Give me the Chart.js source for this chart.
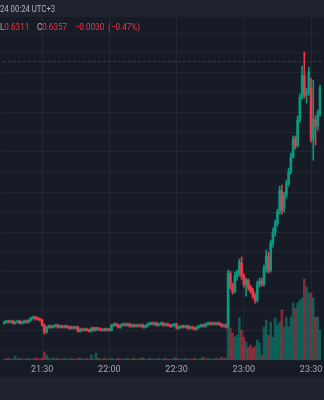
<!DOCTYPE html>
<html>
<head>
<meta charset="utf-8">
<script src="https://cdn.jsdelivr.net/npm/chart.js@4.4.1/dist/chart.umd.min.js"></script>
<style>
  html, body { margin: 0; padding: 0; background: #171b26; }
  #wrap { position: relative; width: 324px; height: 400px; overflow: hidden; background: #171b26; }
  #topbar { position: absolute; left: 0; top: 0; width: 324px; height: 17px; background: #1e222d; }
  #bottombar { position: absolute; left: 0; top: 377px; width: 324px; height: 23px; background: #1e222d; }
  canvas { position: absolute; left: 0; top: 0; }
  .txt { position: absolute; left: 0; font-family: Roboto, sans-serif; font-size: 9px; line-height: 10px;
         white-space: nowrap; color: #b2b5be; transform: scaleX(0.86); transform-origin: 0 0; }
  .ohlc { transform: scaleX(0.9); word-spacing: 2px; }
  .red { color: #f23645; }
</style>
</head>
<body>
<div id="wrap">
  <div id="topbar"></div>
  <div id="bottombar"></div>
  <canvas id="chart" width="324" height="400"></canvas>
  <div class="txt" style="top:4px">24 00:24 UTC+3</div>
  <div class="txt ohlc" style="top:22px">L<span class="red">0.6311</span>&nbsp; C<span class="red">0.6357</span>&nbsp; <span class="red">&minus;0.0030 (&minus;0.47%)</span></div>
</div>
<script>
// one-minute candles, 21:13 .. 23:34
const firstMinute = 21 * 60 + 13;
const candleCount = 142;
const majorTimes = ['21:30', '22:00', '22:30', '23:00', '23:30'];

const open = [
  0.63054, 0.63056, 0.63058, 0.63056, 0.63058, 0.63054, 0.63056, 0.63058, 0.63054, 0.63056,
  0.63058, 0.63056, 0.63060, 0.63064, 0.63066, 0.63064, 0.63062, 0.63060, 0.63050, 0.63036,
  0.63046, 0.63048, 0.63046, 0.63048, 0.63050, 0.63046, 0.63048, 0.63046, 0.63048, 0.63046,
  0.63044, 0.63046, 0.63044, 0.63046, 0.63038, 0.63042, 0.63040, 0.63042, 0.63040, 0.63038,
  0.63044, 0.63040, 0.63044, 0.63042, 0.63040, 0.63042, 0.63040, 0.63042, 0.63040, 0.63050,
  0.63052, 0.63050, 0.63046, 0.63050, 0.63052, 0.63050, 0.63052, 0.63048, 0.63050, 0.63048,
  0.63050, 0.63048, 0.63050, 0.63046, 0.63048, 0.63052, 0.63054, 0.63052, 0.63054, 0.63050,
  0.63052, 0.63054, 0.63050, 0.63052, 0.63050, 0.63048, 0.63050, 0.63052, 0.63044, 0.63046,
  0.63048, 0.63046, 0.63048, 0.63044, 0.63046, 0.63044, 0.63042, 0.63046, 0.63048, 0.63050,
  0.63048, 0.63052, 0.63054, 0.63052, 0.63054, 0.63052, 0.63054, 0.63052, 0.63048, 0.63050,
  0.63046, 0.63154, 0.63128, 0.63118, 0.63146, 0.63154, 0.63174, 0.63148, 0.63132, 0.63140,
  0.63126, 0.63120, 0.63108, 0.63100, 0.63132, 0.63138, 0.63132, 0.63164, 0.63188, 0.63160,
  0.63214, 0.63236, 0.63254, 0.63276, 0.63316, 0.63284, 0.63310, 0.63332, 0.63356, 0.63386,
  0.63422, 0.63410, 0.63460, 0.63506, 0.63548, 0.63510, 0.63518, 0.63524, 0.63422, 0.63460,
  0.63448, 0.63474
];
const close = [
  0.63056, 0.63058, 0.63056, 0.63058, 0.63054, 0.63056, 0.63058, 0.63054, 0.63056, 0.63058,
  0.63056, 0.63060, 0.63064, 0.63066, 0.63064, 0.63062, 0.63060, 0.63050, 0.63036, 0.63046,
  0.63048, 0.63046, 0.63048, 0.63050, 0.63046, 0.63048, 0.63046, 0.63048, 0.63046, 0.63044,
  0.63046, 0.63044, 0.63046, 0.63038, 0.63042, 0.63040, 0.63042, 0.63040, 0.63038, 0.63044,
  0.63040, 0.63044, 0.63042, 0.63040, 0.63042, 0.63040, 0.63042, 0.63040, 0.63050, 0.63052,
  0.63050, 0.63046, 0.63050, 0.63052, 0.63050, 0.63052, 0.63048, 0.63050, 0.63048, 0.63050,
  0.63048, 0.63050, 0.63046, 0.63048, 0.63052, 0.63054, 0.63052, 0.63054, 0.63050, 0.63052,
  0.63054, 0.63050, 0.63052, 0.63050, 0.63048, 0.63050, 0.63052, 0.63044, 0.63046, 0.63048,
  0.63046, 0.63048, 0.63044, 0.63046, 0.63044, 0.63042, 0.63046, 0.63048, 0.63050, 0.63048,
  0.63052, 0.63054, 0.63052, 0.63054, 0.63052, 0.63054, 0.63052, 0.63048, 0.63050, 0.63046,
  0.63154, 0.63126, 0.63116, 0.63148, 0.63156, 0.63176, 0.63148, 0.63132, 0.63140, 0.63126,
  0.63118, 0.63108, 0.63100, 0.63132, 0.63138, 0.63132, 0.63164, 0.63188, 0.63158, 0.63214,
  0.63236, 0.63254, 0.63276, 0.63320, 0.63280, 0.63310, 0.63334, 0.63356, 0.63386, 0.63422,
  0.63408, 0.63460, 0.63506, 0.63550, 0.63510, 0.63518, 0.63556, 0.63422, 0.63462, 0.63448,
  0.63474, 0.63524
];
const high = [
  0.63058, 0.63060, 0.63060, 0.63060, 0.63060, 0.63058, 0.63060, 0.63060, 0.63058, 0.63060,
  0.63060, 0.63062, 0.63066, 0.63068, 0.63068, 0.63066, 0.63064, 0.63062, 0.63052, 0.63048,
  0.63050, 0.63050, 0.63050, 0.63052, 0.63052, 0.63050, 0.63050, 0.63050, 0.63050, 0.63048,
  0.63048, 0.63048, 0.63048, 0.63048, 0.63044, 0.63044, 0.63044, 0.63044, 0.63042, 0.63046,
  0.63046, 0.63046, 0.63046, 0.63044, 0.63044, 0.63044, 0.63044, 0.63044, 0.63052, 0.63054,
  0.63054, 0.63052, 0.63052, 0.63054, 0.63054, 0.63054, 0.63054, 0.63052, 0.63052, 0.63052,
  0.63052, 0.63052, 0.63052, 0.63050, 0.63054, 0.63056, 0.63056, 0.63056, 0.63056, 0.63054,
  0.63056, 0.63056, 0.63054, 0.63054, 0.63052, 0.63052, 0.63054, 0.63054, 0.63048, 0.63050,
  0.63050, 0.63050, 0.63050, 0.63048, 0.63048, 0.63046, 0.63048, 0.63050, 0.63052, 0.63052,
  0.63054, 0.63056, 0.63056, 0.63056, 0.63056, 0.63056, 0.63056, 0.63054, 0.63052, 0.63052,
  0.63160, 0.63158, 0.63134, 0.63156, 0.63160, 0.63182, 0.63186, 0.63152, 0.63144, 0.63142,
  0.63130, 0.63124, 0.63114, 0.63138, 0.63144, 0.63144, 0.63170, 0.63200, 0.63196, 0.63220,
  0.63244, 0.63260, 0.63282, 0.63328, 0.63330, 0.63316, 0.63340, 0.63364, 0.63394, 0.63428,
  0.63428, 0.63468, 0.63512, 0.63568, 0.63596, 0.63524, 0.63566, 0.63544, 0.63540, 0.63468,
  0.63480, 0.63530
];
const low = [
  0.63052, 0.63054, 0.63054, 0.63054, 0.63052, 0.63052, 0.63054, 0.63052, 0.63052, 0.63054,
  0.63054, 0.63054, 0.63058, 0.63062, 0.63060, 0.63060, 0.63058, 0.63048, 0.63032, 0.63034,
  0.63044, 0.63044, 0.63044, 0.63046, 0.63044, 0.63044, 0.63044, 0.63044, 0.63044, 0.63042,
  0.63042, 0.63042, 0.63042, 0.63036, 0.63036, 0.63038, 0.63038, 0.63038, 0.63036, 0.63036,
  0.63038, 0.63038, 0.63040, 0.63038, 0.63038, 0.63038, 0.63038, 0.63038, 0.63038, 0.63048,
  0.63048, 0.63044, 0.63044, 0.63048, 0.63048, 0.63048, 0.63046, 0.63046, 0.63046, 0.63046,
  0.63046, 0.63046, 0.63044, 0.63044, 0.63046, 0.63050, 0.63050, 0.63050, 0.63048, 0.63048,
  0.63050, 0.63048, 0.63048, 0.63048, 0.63046, 0.63046, 0.63048, 0.63042, 0.63042, 0.63044,
  0.63044, 0.63044, 0.63042, 0.63042, 0.63042, 0.63040, 0.63040, 0.63044, 0.63046, 0.63046,
  0.63046, 0.63050, 0.63050, 0.63050, 0.63050, 0.63050, 0.63050, 0.63046, 0.63046, 0.63044,
  0.63044, 0.63122, 0.63112, 0.63114, 0.63140, 0.63148, 0.63142, 0.63126, 0.63108, 0.63120,
  0.63114, 0.63104, 0.63094, 0.63096, 0.63126, 0.63128, 0.63128, 0.63156, 0.63154, 0.63156,
  0.63206, 0.63228, 0.63248, 0.63272, 0.63272, 0.63276, 0.63304, 0.63328, 0.63352, 0.63384,
  0.63402, 0.63406, 0.63456, 0.63502, 0.63504, 0.63494, 0.63510, 0.63416, 0.63380, 0.63410,
  0.63440, 0.63468
];
const volume = [
  100, 100, 200, 100, 100, 400, 100, 200, 100, 100,
  100, 200, 100, 100, 200, 200, 100, 200, 800, 500,
  200, 100, 200, 100, 200, 100, 100, 200, 100, 100,
  200, 100, 100, 200, 200, 100, 100, 200, 100, 500,
  100, 700, 200, 100, 100, 200, 100, 100, 200, 100,
  100, 200, 100, 100, 100, 200, 100, 100, 200, 100,
  100, 200, 200, 100, 100, 200, 100, 100, 100, 200,
  100, 100, 200, 100, 100, 100, 200, 200, 100, 100,
  100, 200, 100, 100, 100, 200, 100, 100, 200, 300,
  100, 200, 100, 100, 100, 200, 100, 300, 200, 200,
  5000, 3200, 2700, 2300, 2500, 4200, 3000, 2300, 1800, 1300,
  1500, 1200, 1400, 2000, 1700, 500, 3300, 4000, 2500, 3800,
  2300, 4200, 3500, 3800, 5000, 3300, 4300, 3300, 4300, 5700,
  5200, 5700, 6000, 6200, 8100, 7300, 6700, 6700, 6200, 4300,
  4300, 3000
];

// horizontal grid levels and the dashed price line
const priceTicks = [0.63634, 0.63596, 0.63556, 0.63516, 0.63476, 0.63436, 0.63398, 0.63358, 0.63316,
  0.63276, 0.63236, 0.63198, 0.63158, 0.63118, 0.63080, 0.63040, 0.63000];
const priceLine = 0.63578;
const priceMin = 0.62980;
const priceMax = 0.63666;
const volumeMax = 34300;

const times = [];
for (let i = 0; i < candleCount; i++) {
  const m = firstMinute + i;
  times.push(String(Math.floor(m / 60)).padStart(2, '0') + ':' + String(m % 60).padStart(2, '0'));
}

const UP = '#089981';
const DOWN = '#f23645';
const UP_VOL = 'rgba(8,153,129,0.5)';
const DOWN_VOL = 'rgba(242,54,69,0.5)';
const GRID = '#222633';

const isUp = i => close[i] >= open[i];
const isMajor = i => majorTimes.includes(times[i]);

const priceLinePlugin = {
  id: 'priceLine',
  beforeDatasetsDraw(chart) {
    const { ctx, chartArea, scales } = chart;
    const y = Math.round(scales.y.getPixelForValue(priceLine)) + 0.5;
    ctx.save();
    ctx.strokeStyle = 'rgba(242,54,69,0.38)';
    ctx.lineWidth = 1;
    ctx.setLineDash([3, 2]);
    ctx.beginPath();
    ctx.moveTo(chartArea.left, y);
    ctx.lineTo(chartArea.right, y);
    ctx.stroke();
    ctx.restore();
  }
};

new Chart(document.getElementById('chart').getContext('2d'), {
  type: 'bar',
  data: {
    labels: times,
    datasets: [
      {
        label: 'body',
        data: open.map((o, i) => [o, close[i]]),
        backgroundColor: open.map((o, i) => isUp(i) ? UP : DOWN),
        barThickness: 2,
        minBarLength: 1,
        grouped: false,
        order: 1
      },
      {
        label: 'wick',
        data: low.map((l, i) => [l, high[i]]),
        backgroundColor: open.map((o, i) => isUp(i) ? UP : DOWN),
        barThickness: 1,
        grouped: false,
        order: 2
      },
      {
        label: 'volume',
        data: volume,
        yAxisID: 'yv',
        backgroundColor: open.map((o, i) => isUp(i) ? UP_VOL : DOWN_VOL),
        barThickness: 2,
        grouped: false,
        order: 3
      }
    ]
  },
  options: {
    responsive: false,
    animation: false,
    layout: { padding: { top: 17, bottom: 21, left: 0, right: 0 } },
    plugins: { legend: { display: false }, tooltip: { enabled: false } },
    scales: {
      x: {
        offset: true,
        grid: {
          offset: false,
          drawTicks: false,
          color: ctx => isMajor(ctx.index) ? GRID : 'rgba(0,0,0,0)'
        },
        border: { display: false },
        ticks: {
          autoSkip: false,
          maxRotation: 0,
          minRotation: 0,
          padding: 4,
          color: '#a3a6af',
          font: { family: 'Roboto', size: 9 },
          callback: (v, i) => isMajor(i) ? times[i] : ''
        }
      },
      y: {
        position: 'right',
        min: priceMin,
        max: priceMax,
        afterBuildTicks: scale => { scale.ticks = priceTicks.map(v => ({ value: v })); },
        ticks: { display: false },
        grid: { color: GRID, drawTicks: false },
        border: { display: false }
      },
      yv: {
        display: false,
        min: 0,
        max: volumeMax
      }
    }
  },
  plugins: [priceLinePlugin]
});
</script>
</body>
</html>
